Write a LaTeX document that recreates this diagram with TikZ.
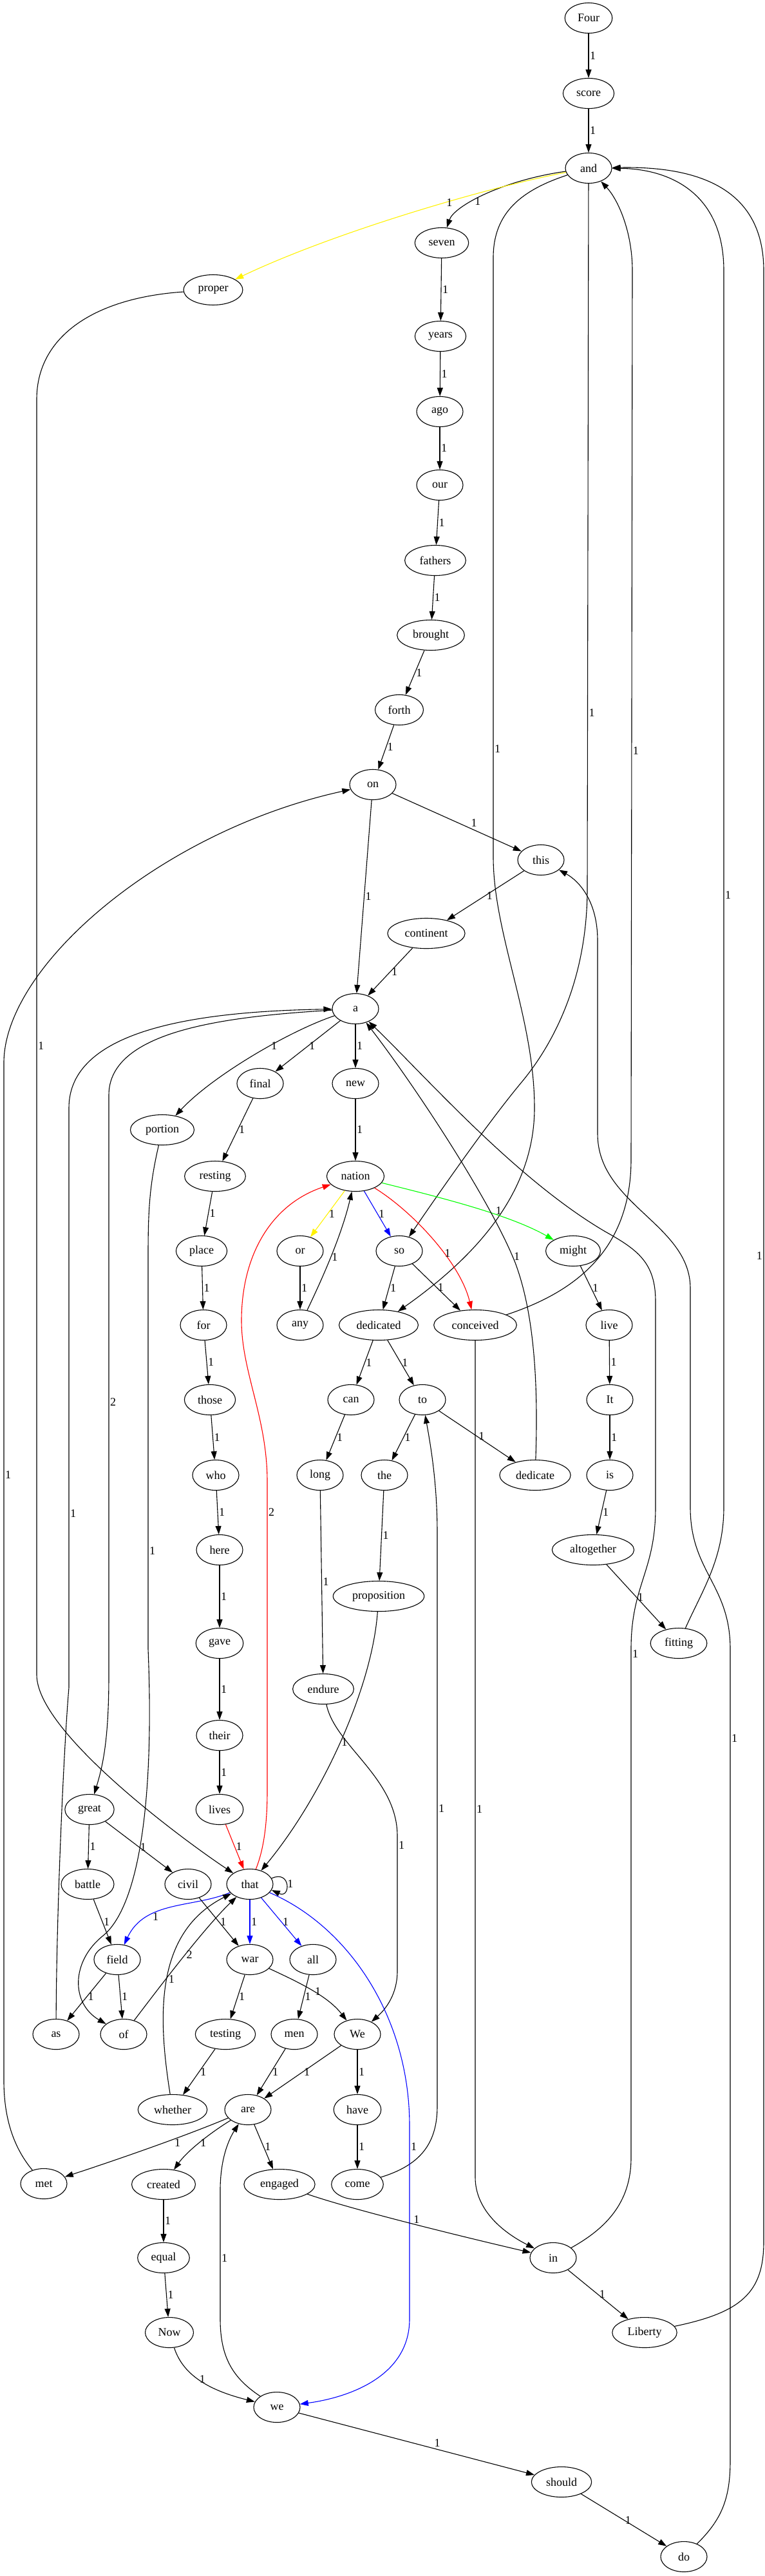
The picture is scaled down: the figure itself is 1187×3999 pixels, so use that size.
\documentclass[tikz,border=0pt]{standalone}
\usepackage{fontspec}
\setmainfont{Liberation Serif}
\usetikzlibrary{arrows.meta,shapes.geometric}

\begin{document}
\begin{tikzpicture}[x=1pt, y=-1pt, >={Triangle[length=13pt,width=9pt]}, line width=1.1pt]
\tikzset{
  n/.style={draw, ellipse, minimum width=72pt, minimum height=47pt, inner xsep=9pt, inner ysep=2pt, font=\fontsize{18}{20}\selectfont},
  lbl/.style={font=\fontsize{18}{20}\selectfont, inner sep=1.5pt, text=black}
}
\useasboundingbox (0,0) rectangle (1187,3999);
\node[n] (Four) at (914,28) {Four};
\node[n] (score) at (914,145) {score};
\node[n] (and) at (914,261) {and};
\node[n] (seven) at (686,377) {seven};
\node[n] (proper) at (331,450) {proper};
\node[n] (years) at (684,522) {years};
\node[n] (ago) at (683,639) {ago};
\node[n] (our) at (683,753) {our};
\node[n] (fathers) at (676,870) {fathers};
\node[n] (brought) at (669,986) {brought};
\node[n] (forth) at (620,1102) {forth};
\node[n] (on) at (579,1218) {on};
\node[n] (this) at (840,1335) {this};
\node[n] (continent) at (662,1449) {continent};
\node[n] (a) at (552,1566) {a};
\node[n] (final) at (404,1682) {final};
\node[n] (new) at (552,1682) {new};
\node[n] (portion) at (252,1754) {portion};
\node[n] (resting) at (334,1826) {resting};
\node[n] (nation) at (552,1826) {nation};
\node[n] (place) at (313,1942) {place};
\node[n] (or) at (466,1942) {or};
\node[n] (so) at (620,1942) {so};
\node[n] (might) at (890,1942) {might};
\node[n] (for) at (316,2057) {for};
\node[n] (any) at (466,2057) {any};
\node[n] (dedicated) at (588,2057) {dedicated};
\node[n] (conceived) at (738,2057) {conceived};
\node[n] (live) at (946,2057) {live};
\node[n] (those) at (326,2173) {those};
\node[n] (can) at (545,2173) {can};
\node[n] (to) at (656,2173) {to};
\node[n] (It) at (947,2173) {It};
\node[n] (who) at (335,2290) {who};
\node[n] (long) at (497,2290) {long};
\node[n] (the) at (597,2290) {the};
\node[n] (dedicate) at (831,2290) {dedicate};
\node[n] (is) at (947,2290) {is};
\node[n] (here) at (341,2406) {here};
\node[n] (altogether) at (921,2406) {altogether};
\node[n] (proposition) at (588,2478) {proposition};
\node[n] (gave) at (341,2551) {gave};
\node[n] (fitting) at (1054,2551) {fitting};
\node[n] (endure) at (502,2622) {endure};
\node[n] (their) at (341,2694) {their};
\node[n] (great) at (139,2809) {great};
\node[n] (lives) at (341,2809) {lives};
\node[n] (battle) at (136,2925) {battle};
\node[n] (civil) at (292,2925) {civil};
\node[n] (that) at (388,2925) {that};
\node[n] (field) at (182,3042) {field};
\node[n] (war) at (388,3042) {war};
\node[n] (all) at (486,3042) {all};
\node[n] (as) at (87,3158) {as};
\node[n] (of) at (192,3158) {of};
\node[n] (testing) at (350,3158) {testing};
\node[n] (men) at (457,3158) {men};
\node[n] (We) at (555,3158) {We};
\node[n] (whether) at (268,3275) {whether};
\node[n] (are) at (385,3275) {are};
\node[n] (have) at (555,3275) {have};
\node[n] (met) at (68,3390) {met};
\node[n] (created) at (254,3391) {created};
\node[n] (engaged) at (434,3391) {engaged};
\node[n] (come) at (555,3391) {come};
\node[n] (in) at (859,3505) {in};
\node[n] (equal) at (254,3505) {equal};
\node[n] (Now) at (263,3621) {Now};
\node[n] (Liberty) at (1001,3621) {Liberty};
\node[n] (we) at (430,3737) {we};
\node[n] (should) at (872,3853) {should};
\node[n] (do) at (1062,3969) {do};
% top chain
\draw[->] (Four) -- node[lbl,right]{1} (score);
\draw[->] (score) -- node[lbl,right]{1} (and);
\draw[->] (and) .. controls (780,280) and (705,320) .. node[lbl,pos=0.6,right]{1} (seven);
\draw[->, yellow] (and) .. controls (760,290) and (520,360) .. node[lbl,pos=0.4,right]{1} (proper);
\draw[->] (seven) -- node[lbl,right]{1} (years);
\draw[->] (years) -- node[lbl,right]{1} (ago);
\draw[->] (ago) -- node[lbl,right]{1} (our);
\draw[->] (our) -- node[lbl,right]{1} (fathers);
\draw[->] (fathers) -- node[lbl,right]{1} (brought);
\draw[->] (brought) -- node[lbl,right]{1} (forth);
\draw[->] (forth) -- node[lbl,right]{1} (on);
\draw[->] (on) -- node[lbl,pos=0.6,above right]{1} (this);
\draw[->] (on) -- node[lbl,right]{1} (a);
\draw[->] (this) -- node[lbl,right]{1} (continent);
\draw[->] (continent) -- node[lbl,right]{1} (a);
% long edges round and
\draw[->] (and) .. controls (810,295) and (766,330) .. (766,400) -- node[lbl,pos=0.82,right]{1} (766,1330) .. controls (766,1450) and (830,1580) .. (830,1720) .. controls (830,1850) and (740,1950) .. (dedicated);
\draw[->] (and) -- node[lbl,pos=0.75,right]{1} (912,1380) .. controls (912,1520) and (860,1620) .. (810,1680) .. controls (760,1740) and (690,1840) .. (so);
\draw[->] (conceived) .. controls (880,2010) and (980,1950) .. (980,1800) -- node[lbl,pos=0.46,right]{1} (982,420) .. controls (982,360) and (960,310) .. (and);
\draw[->] (fitting) .. controls (1090,2470) and (1124,2420) .. (1124,2340) -- node[lbl,pos=0.495,right]{1} (1124,420) .. controls (1124,300) and (1040,262) .. (and);
\draw[->] (Liberty) .. controls (1150,3590) and (1186,3560) .. (1186,3480) -- node[lbl,pos=0.5,left]{1} (1186,420) .. controls (1186,290) and (1080,258) .. (and);
% from a
\draw[->] (a) .. controls (450,1600) and (330,1670) .. node[lbl,pos=0.4,right]{1} (portion);
\draw[->] (a) -- node[lbl,right]{1} (final);
\draw[->] (a) -- node[lbl,right]{1} (new);
\draw[->] (a) .. controls (350,1578) and (169,1600) .. (169,1700) -- node[lbl,pos=0.53,right]{2} (169,2600) .. controls (169,2700) and (160,2740) .. (great);
\draw[->] (as) .. controls (88,2950) and (100,2700) .. (107,2620) -- node[lbl,pos=0.3,right]{1} (107,1720) .. controls (107,1600) and (300,1570) .. (a);
\draw[->] (portion) .. controls (232,1840) and (230,1880) .. (230,1950) -- node[lbl,pos=0.75,right]{1} (230,2560) .. controls (240,2800) and (215,2960) .. (160,3005) .. controls (110,3045) and (110,3110) .. (of);
\draw[->] (final) -- node[lbl,right]{1} (resting);
\draw[->] (new) -- node[lbl,right]{1} (nation);
\draw[->] (resting) -- node[lbl,right]{1} (place);
% from nation
\draw[->, yellow] (nation) -- node[lbl,right]{1} (or);
\draw[->, blue] (nation) -- node[lbl,right]{1} (so);
\draw[->, red] (nation) .. controls (640,1880) and (715,1960) .. node[lbl,pos=0.6,right]{1} (conceived);
\draw[->, green] (nation) .. controls (680,1858) and (790,1885) .. node[lbl,pos=0.65,above]{1} (might);
\draw[->] (any) .. controls (498,1990) and (530,1920) .. node[lbl,pos=0.5,right]{1} (nation);
\draw[->, red] (that) .. controls (410,2870) and (415,2830) .. (415,2780) -- node[lbl,pos=0.9,right]{2} (415,2300) .. controls (415,2200) and (375,2130) .. (375,2050) .. controls (375,1950) and (420,1870) .. (nation);
\draw[->] (place) -- node[lbl,right]{1} (for);
\draw[->] (or) -- node[lbl,right]{1} (any);
\draw[->] (so) -- node[lbl,right]{1} (dedicated);
\draw[->] (so) -- node[lbl,right]{1} (conceived);
\draw[->] (might) -- node[lbl,right]{1} (live);
\draw[->] (dedicate) .. controls (836,2150) and (830,2040) .. (800,1960) .. controls (760,1860) and (640,1680) .. node[lbl,pos=0.03,right]{1} (a);
\draw[->] (in) .. controls (940,3460) and (980,3420) .. (980,3350) -- node[lbl,pos=0.99,right]{1} (980,2560) .. controls (980,2460) and (1018,2440) .. (1018,2340) -- (1018,2020) .. controls (1018,1960) and (990,1940) .. (940,1912) .. controls (800,1830) and (660,1670) .. (a);
% middle
\draw[->] (dedicated) -- node[lbl,right]{1} (can);
\draw[->] (dedicated) -- node[lbl,right]{1} (to);
\draw[->] (conceived) -- node[lbl,pos=0.56,right]{1} (738,3380) .. controls (738,3430) and (780,3465) .. (in);
\draw[->] (live) -- node[lbl,right]{1} (It);
\draw[->] (It) -- node[lbl,right]{1} (is);
\draw[->] (can) -- node[lbl,right]{1} (long);
\draw[->] (to) -- node[lbl,right]{1} (the);
\draw[->] (to) -- node[lbl,right]{1} (dedicate);
\draw[->] (come) .. controls (650,3362) and (679,3330) .. (679,3270) -- node[lbl,pos=0.52,right]{1} (679,2380) .. controls (679,2300) and (668,2240) .. (to);
\draw[->] (long) -- node[lbl,right]{1} (endure);
\draw[->] (the) -- node[lbl,right]{1} (proposition);
\draw[->] (is) -- node[lbl,right]{1} (altogether);
\draw[->] (altogether) -- node[lbl,right]{1} (fitting);
\draw[->] (proposition) .. controls (578,2620) and (500,2790) .. node[lbl,pos=0.5,right]{1} (that);
\draw[->] (endure) .. controls (520,2710) and (617,2760) .. (617,2850) -- node[lbl,pos=0.07,right]{1} (617,3060) .. controls (617,3095) and (600,3118) .. (We);
\draw[->] (for) -- node[lbl,right]{1} (those);
\draw[->] (those) -- node[lbl,right]{1} (who);
\draw[->] (who) -- node[lbl,right]{1} (here);
\draw[->] (here) -- node[lbl,right]{1} (gave);
\draw[->] (gave) -- node[lbl,right]{1} (their);
\draw[->] (their) -- node[lbl,right]{1} (lives);
\draw[->, red] (lives) -- node[lbl,right]{1} (that);
\draw[->] (proper) .. controls (150,462) and (57,520) .. (57,620) -- node[lbl,pos=0.507,right]{1} (57,2600) .. controls (57,2690) and (290,2860) .. (that);
% around that
\draw[->] (great) -- node[lbl,right]{1} (battle);
\draw[->] (great) -- node[lbl,right]{1} (civil);
\draw[->] (that.15) .. controls +(30,-14) and +(30,14) .. node[lbl,right]{1} (that.-15);
\draw[->, blue] (that) .. controls (300,2962) and (225,2950) .. node[lbl,pos=0.6,below left]{1} (field);
\draw[->, blue] (that) -- node[lbl,right]{1} (war);
\draw[->, blue] (that) -- node[lbl,right]{1} (all);
\draw[->, blue] (that) .. controls (540,2990) and (636,3130) .. (636,3300) -- node[lbl,pos=0.11,right]{1} (636,3600) .. controls (636,3690) and (540,3722) .. (we);
\draw[->] (battle) -- node[lbl,right]{1} (field);
\draw[->] (civil) -- node[lbl,right]{1} (war);
\draw[->] (of) .. controls (255,3075) and (320,2990) .. node[lbl,pos=0.5,right]{2} (that);
\draw[->] (field) -- node[lbl,right]{1} (as);
\draw[->] (field) -- node[lbl,right]{1} (of);
\draw[->] (war) -- node[lbl,right]{1} (testing);
\draw[->] (war) .. controls (470,3080) and (510,3100) .. node[lbl,pos=0.5,right]{1} (We);
\draw[->] (all) -- node[lbl,right]{1} (men);
\draw[->] (whether) .. controls (245,3130) and (240,3000) .. node[lbl,pos=0.5,right]{1} (that);
\draw[->] (testing) -- node[lbl,right]{1} (whether);
\draw[->] (men) -- node[lbl,right]{1} (are);
\draw[->] (We) -- node[lbl,right]{1} (are);
\draw[->] (We) -- node[lbl,right]{1} (have);
% bottom
\draw[->] (are) .. controls (290,3315) and (190,3350) .. node[lbl,pos=0.35,below]{1} (met);
\draw[->] (are) .. controls (325,3312) and (290,3340) .. node[lbl,pos=0.5,right]{1} (created);
\draw[->] (are) -- node[lbl,right]{1} (engaged);
\draw[->] (have) -- node[lbl,right]{1} (come);
\draw[->] (we) .. controls (362,3692) and (342,3660) .. (342,3600) -- node[lbl,pos=0.47,right]{1} (342,3400) .. controls (342,3350) and (356,3320) .. (are);
\draw[->] (met) .. controls (22,3335) and (6,3290) .. (6,3230) -- node[lbl,pos=0.595,right]{1} (6,1650) .. controls (6,1500) and (250,1290) .. (on);
\draw[->] (created) -- node[lbl,right]{1} (equal);
\draw[->] (equal) -- node[lbl,right]{1} (Now);
\draw[->] (Now) .. controls (285,3690) and (330,3712) .. node[lbl,pos=0.45,right]{1} (we);
\draw[->] (engaged) .. controls (540,3428) and (700,3468) .. node[lbl,pos=0.55,above]{1} (in);
\draw[->] (in) -- node[lbl,right]{1} (Liberty);
\draw[->] (we) -- node[lbl,pos=0.57,above right]{1} (should);
\draw[->] (should) -- node[lbl,right]{1} (do);
\draw[->] (do) .. controls (1120,3912) and (1134,3880) .. (1134,3820) -- node[lbl,pos=0.89,right]{1} (1134,2560) .. controls (1134,2460) and (1072,2440) .. (1072,2340) -- (1072,2000) .. controls (1072,1900) and (928,1870) .. (928,1760) -- (928,1460) .. controls (928,1400) and (900,1368) .. (this);
\end{tikzpicture}
\end{document}
